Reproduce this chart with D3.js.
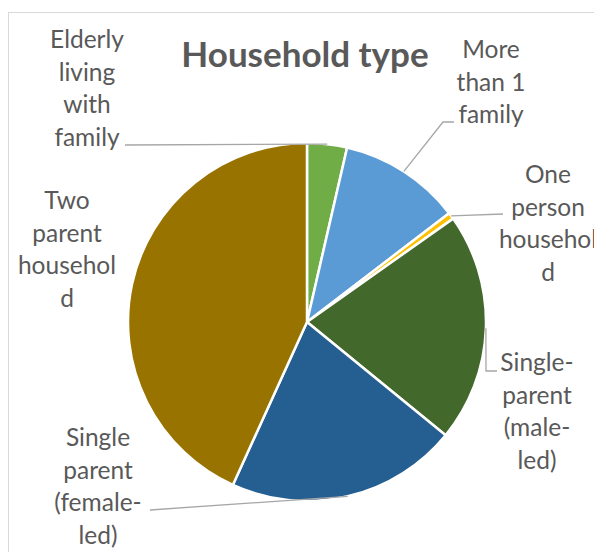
<!DOCTYPE html>
<html>
<head>
<meta charset="utf-8">
<script src="https://cdn.jsdelivr.net/npm/d3@7"></script>
<style>
  html, body { margin: 0; padding: 0; background: #fff; overflow: hidden; }
  svg { display: block; }
</style>
</head>
<body>
<div id="chart"></div>
<script>
// data (percent of households)
const categories = [
  'Elderly living with family',
  'More than 1 family',
  'One person household',
  'Single-parent (male-led)',
  'Single parent (female-led)',
  'Two parent household'
];
const shares = [3.6, 11.0, 0.6, 20.7, 20.9, 43.2];
const colors = ['#70AD47', '#5B9BD5', '#FFC000', '#43682B', '#255E91', '#997300'];

// label text broken the way the chart wraps it
const labelLines = [
  ['Elderly', 'living', 'with', 'family'],
  ['More', 'than 1', 'family'],
  ['One', 'person', 'househol', 'd'],
  ['Single-', 'parent', '(male-', 'led)'],
  ['Single', 'parent', '(female-', 'led)'],
  ['Two', 'parent', 'househol', 'd']
];

// layout: label centre x, first baseline y, leader line bend points
const labelLayout = [
  { x: 87, y: 48, leader: [[125, 145]] },
  { x: 491, y: 58, leader: [[443, 122], [454, 122]] },
  { x: 548, y: 183, leader: [[503, 214]] },
  { x: 537, y: 371, leader: [[486, 371], [497, 371]] },
  { x: 98, y: 446, leader: [[150, 510]] },
  { x: 67, y: 209, leader: null }
];

const width = 594, height = 552;
const cx = 307, cy = 322, radius = 179;
const lineH = 32.5;

const svg = d3.select('#chart').append('svg')
  .attr('width', width)
  .attr('height', height);

// chart area frame
svg.append('rect')
  .attr('x', 8.5).attr('y', 12.5)
  .attr('width', width + 20).attr('height', height + 20)
  .attr('fill', '#fff')
  .attr('stroke', '#D9D9D9')
  .attr('stroke-width', 1);

svg.append('text')
  .attr('x', 305).attr('y', 67)
  .attr('text-anchor', 'middle')
  .attr('font-family', 'Lato, sans-serif')
  .attr('font-weight', 'bold')
  .attr('font-size', 35)
  .attr('fill', '#595959')
  .text('Household type');

const pie = d3.pie().sort(null).value(d => d);
const arcs = pie(shares);
const arc = d3.arc().innerRadius(0).outerRadius(radius);

const g = svg.append('g').attr('transform', `translate(${cx},${cy})`);

g.selectAll('path.slice')
  .data(arcs)
  .join('path')
  .attr('class', 'slice')
  .attr('d', arc)
  .attr('fill', (d, i) => colors[i])
  .attr('stroke', '#fff')
  .attr('stroke-width', 2.5)
  .attr('stroke-linejoin', 'round');

// leader lines start on the rim at the slice's middle angle
const line = d3.line();
arcs.forEach((a, i) => {
  const lay = labelLayout[i];
  if (!lay.leader) return;
  const mid = (a.startAngle + a.endAngle) / 2;
  const start = [cx + Math.sin(mid) * radius, cy - Math.cos(mid) * radius];
  svg.append('path')
    .attr('d', line([start].concat(lay.leader)))
    .attr('fill', 'none')
    .attr('stroke', '#A6A6A6')
    .attr('stroke-width', 1.3);
});

const labels = svg.selectAll('text.label')
  .data(categories)
  .join('text')
  .attr('class', 'label')
  .attr('text-anchor', 'middle')
  .attr('font-family', 'Lato, sans-serif')
  .attr('font-size', 24.5)
  .attr('fill', '#595959')
  .attr('aria-label', d => d);

labels.each(function (d, i) {
  const lay = labelLayout[i];
  d3.select(this).selectAll('tspan')
    .data(labelLines[i])
    .join('tspan')
    .attr('x', lay.x)
    .attr('y', (t, j) => lay.y + j * lineH)
    .text(t => t);
});
</script>
</body>
</html>
